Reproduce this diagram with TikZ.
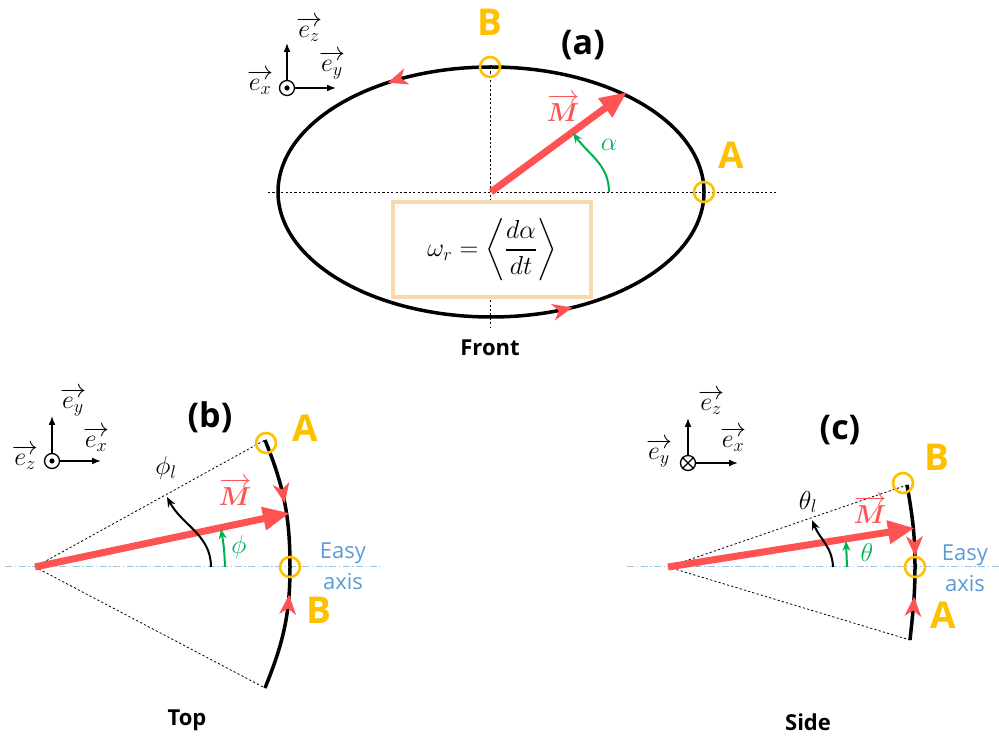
\RequirePackage{fix-cm}
\documentclass[tikz,border=0pt]{standalone}
\usepackage{amsmath,amssymb}
\usepackage{fontspec}
\setmainfont{Open Sans}
\usepackage{tikz}
\usetikzlibrary{arrows.meta,decorations.markings}
\usepackage{xcolor}
\definecolor{mred}{HTML}{FF5353}
\definecolor{gold}{HTML}{FFC000}
\definecolor{mgreen}{HTML}{00B050}
\definecolor{skyline}{HTML}{9DC3E6}
\definecolor{skytext}{HTML}{5B9BD5}
\definecolor{peach}{HTML}{FAD7AC}
\newcommand{\ptfont}{\fontsize{37}{40}\selectfont\bfseries}
\newcommand{\titlefont}{\fontsize{34}{36}\selectfont}
\newcommand{\viewfont}{\fontsize{22}{24}\selectfont}
\newcommand{\mathsz}{\fontsize{26}{31}\selectfont}
\newcommand{\easysz}{\fontsize{22}{31}\selectfont}
\newcommand{\formsz}{\fontsize{26}{30}\selectfont}

\begin{document}
\begin{tikzpicture}[
  x=1pt, y=1pt,
  frame/.style={-{Latex[length=9pt,width=7pt]}, line width=1.6pt},
  origin/.style={circle, draw, line width=1.3pt, minimum size=15pt, inner sep=0pt},
  guide/.style={line width=0.8pt, dash pattern=on 2.2pt off 2.2pt},
  easy/.style={draw=skyline, line width=1pt, dash pattern=on 7pt off 2.5pt on 1.5pt off 2.5pt},
  orbit/.style={line width=3.5pt},
  mvec/.style={draw=mred, line width=7pt, -{Triangle[length=27pt,width=22pt]}},
  angarc/.style={line width=2pt, -{Stealth[length=10pt,width=8pt]}},
  ring/.style={draw=gold, line width=2.6pt, circle, minimum size=20pt, inner sep=0pt},
  ptlab/.style={text=gold, font=\ptfont},
  title/.style={font=\titlefont\bfseries},
  view/.style={font=\viewfont\bfseries},
  maths/.style={font=\mathsz, inner sep=1pt},
  easylab/.style={text=skytext, font=\easysz, align=center},
  formbox/.style={draw=peach, line width=4pt, fill=white, minimum width=198, minimum height=95, font=\formsz},
  orbittip/.tip={Stealth[length=20pt,width=17pt,inset=6pt,line width=0pt,color=mred]}
]
\useasboundingbox (0,0) rectangle (999,736);

% ---------- (a) front view ----------
\coordinate (ctrA) at (491,544);
\coordinate (hlA) at (268,544);
\coordinate (hrA) at (776,544);
\coordinate (vtA) at (490,669);
\coordinate (vbA) at (490,409);
\draw[guide] (hlA) -- (hrA);
\draw[guide] (vtA) -- (vbA);
\node[formbox] (omega) at (492,486) {$\omega_r = \left\langle \dfrac{d\alpha}{dt} \right\rangle$};
\draw[orbit, postaction={decorate}, decoration={markings,
    mark=at position 0.347 with {\arrow{orbittip}},
    mark=at position 0.826 with {\arrow{orbittip}}}]
  (ctrA) ellipse [x radius=213, y radius=125];
\node[ring] (ringBa) at (490,669) {};
\node[ring] (ringAa) at (704,544) {};
\node[ptlab] (labBa) at (490,714) {B};
\node[ptlab] (labAa) at (731,581) {A};
\node[title] (capA) at (583,691) {(a)};
\coordinate (tipA) at (627,644);
\draw[mvec] (ctrA) -- (tipA);
\node[maths, text=mred] (mA) at (563,628) {$\overrightarrow{\boldsymbol{M}}$};
\coordinate (al0) at (609,544);
\coordinate (al1) at (573,603);
\draw[angarc, mgreen] (al0) to[out=90,in=-54] (al1);
\node[maths, text=mgreen] (alpha) at (609,591) {$\alpha$};
\node[view] (front) at (490,388) {Front};
% frame
\node[origin] (oxA) at (287,648) {};
\fill (oxA.center) circle (2.6);
\coordinate (ezA) at (287,693);
\coordinate (eyA) at (336,648);
\draw[frame] (oxA.north) -- (ezA);
\draw[frame] (oxA.east) -- (eyA);
\node[maths] (lezA) at (309,707) {$\overrightarrow{e_z}$};
\node[maths] (leyA) at (332,671) {$\overrightarrow{e_y}$};
\node[maths] (lexA) at (260,654) {$\overrightarrow{e_x}$};

% ---------- (b) top view ----------
\coordinate (oB) at (35,169);
\coordinate (axlB) at (5,169);
\coordinate (axrB) at (380,169);
\coordinate (topB) at (265,296);
\coordinate (midB) at (290,169);
\coordinate (botB) at (265,48);
\draw[easy] (axlB) -- (axrB);
\draw[guide] (oB) -- (topB);
\draw[guide] (oB) -- (botB);
\draw[orbit, postaction={decorate}, decoration={markings,
    mark=at position 0.26 with {\arrow{orbittip}},
    mark=at position 0.62 with {\arrowreversed{orbittip}}}]
  (topB) to[out=-68,in=90] (midB) to[out=-90,in=68] (botB);
\node[ring] (ringAb) at (266,293) {};
\node[ring] (ringBb) at (290,169) {};
\node[ptlab] (labAb) at (305,308) {A};
\node[ptlab] (labBb) at (319,126) {B};
\node[title] (capB) at (210,319) {(b)};
\coordinate (tipB) at (290,223);
\draw[mvec] (oB) -- (tipB);
\node[maths, text=mred] (mB) at (235,244) {$\overrightarrow{\boldsymbol{M}}$};
\coordinate (pl0) at (211,169);
\coordinate (pl1) at (167,239);
\draw[angarc] (pl0) to[out=90,in=-62] (pl1);
\node[maths] (phil) at (166,268) {$\phi_l$};
\coordinate (ph0) at (225,169);
\coordinate (ph1) at (221,207);
\draw[angarc, mgreen] (ph0) to[out=92,in=-80] (ph1);
\node[maths, text=mgreen] (phi) at (239,189) {$\phi$};
\node[easylab] (easyB) at (343,170) {Easy\\axis};
\node[view] (top) at (187,16) {Top};
% frame
\node[origin] (ozB) at (52,275) {};
\fill (ozB.center) circle (2.6);
\coordinate (eyB) at (52,320);
\coordinate (exB) at (101,275);
\draw[frame] (ozB.north) -- (eyB);
\draw[frame] (ozB.east) -- (exB);
\node[maths] (leyB) at (73,334) {$\overrightarrow{e_y}$};
\node[maths] (lexB) at (96,297) {$\overrightarrow{e_x}$};
\node[maths] (lezB) at (25,279) {$\overrightarrow{e_z}$};

% ---------- (c) side view ----------
\coordinate (oC) at (668,169);
\coordinate (axlC) at (627,169);
\coordinate (axrC) at (999,169);
\coordinate (topC) at (907,251);
\coordinate (midC) at (915,169);
\coordinate (botC) at (910,96);
\draw[easy] (axlC) -- (axrC);
\draw[guide] (oC) -- (topC);
\draw[guide] (oC) -- (botC);
\draw[orbit, postaction={decorate}, decoration={markings,
    mark=at position 0.46 with {\arrow{orbittip}},
    mark=at position 0.72 with {\arrowreversed{orbittip}}}]
  (topC) to[out=-80,in=90] (midC) to[out=-90,in=84] (botC);
\node[ring] (ringBc) at (903,253) {};
\node[ring] (ringAc) at (915,169) {};
\node[ptlab] (labBc) at (937,279) {B};
\node[ptlab] (labAc) at (943,121) {A};
\node[title] (capC) at (840,306) {(c)};
\coordinate (tipC) at (915,208);
\draw[mvec] (oC) -- (tipC);
\node[maths, text=mred] (mC) at (870,226) {$\overrightarrow{\boldsymbol{M}}$};
\coordinate (tl0) at (833,169);
\coordinate (tl1) at (812,216);
\draw[angarc] (tl0) to[out=92,in=-68] (tl1);
\node[maths] (thetal) at (808,234) {$\theta_l$};
\coordinate (th0) at (847,169);
\coordinate (th1) at (846,195);
\draw[angarc, mgreen] (th0) -- (th1);
\node[maths, text=mgreen] (theta) at (867,184) {$\theta$};
\node[easylab] (easyC) at (965,168) {Easy\\axis};
\node[view] (side) at (808,14) {Side};
% frame
\node[origin] (oyC) at (688,273) {};
\draw[line width=1.1pt] (oyC.north east) -- (oyC.south west);
\draw[line width=1.1pt] (oyC.north west) -- (oyC.south east);
\coordinate (ezC) at (688,318);
\coordinate (exC) at (738,273);
\draw[frame] (oyC.north) -- (ezC);
\draw[frame] (oyC.east) -- (exC);
\node[maths] (lezC) at (711,334) {$\overrightarrow{e_z}$};
\node[maths] (lexC) at (733,297) {$\overrightarrow{e_x}$};
\node[maths] (leyC) at (659,283) {$\overrightarrow{e_y}$};
\end{tikzpicture}
\end{document}
